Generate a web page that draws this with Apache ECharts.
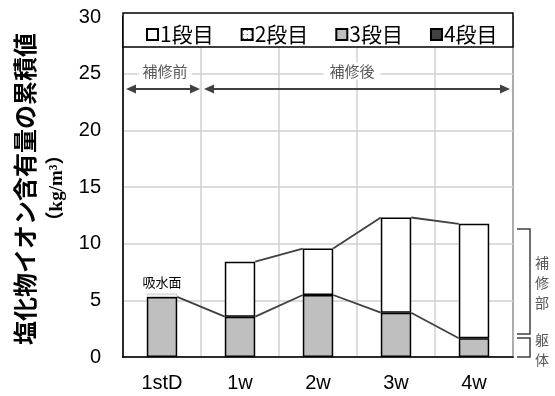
<!DOCTYPE html>
<html><head><meta charset="utf-8">
<script src="https://cdn.jsdelivr.net/npm/echarts@6/dist/echarts.min.js"></script>
<style>html,body{margin:0;padding:0;background:#fff}#c{width:555px;height:396px}</style>
</head><body><div id="c"></div>
<script>
var categories = ['1stD', '1w', '2w', '3w', '4w'];
var dan1 = [0.3, 4.85, 4.1, 8.4, 10.1];
var dan2 = [0, 0, 0, 0, 0];
var dan3 = [5.3, 3.56, 5.47, 3.91, 1.65];
var dan4 = [0, 0, 0, 0, 0];
var seriesNames = ['1段目', '2段目', '3段目', '4段目'];
var yTicks = [0, 5, 10, 15, 20, 25, 30];

var FONT = '"Liberation Sans", "Noto Sans CJK JP", sans-serif';
var BAR_FRAC = 0.39;

function nz(arr) { return arr.map(function (v) { return v === 0 ? '-' : v; }); }

// dotted pattern for 2段目
var pc = document.createElement('canvas');
pc.width = 4; pc.height = 4;
var pctx = pc.getContext('2d');
pctx.fillStyle = '#fff'; pctx.fillRect(0, 0, 4, 4);
pctx.fillStyle = '#404040'; pctx.fillRect(1, 1, 1, 1);
var dotted = { image: pc, repeat: 'repeat' };

// series-line data
var totals = categories.map(function (c, i) { return dan1[i] + dan2[i] + dan3[i] + dan4[i]; });
var lowerPairs = [], upperPairs = [];
for (var i = 0; i < categories.length - 1; i++) {
  lowerPairs.push([i, dan3[i], dan3[i + 1]]);
  if (i >= 1) upperPairs.push([i, totals[i], totals[i + 1]]);
}
function connector(params, api) {
  var i = api.value(0);
  var a = api.value(1), b = api.value(2);
  var half = api.size([1, 0])[0] * BAR_FRAC / 2;
  var p1 = api.coord([i, a]), p2 = api.coord([i + 1, b]);
  return {
    type: 'line',
    shape: { x1: p1[0] + half, y1: p1[1], x2: p2[0] - half, y2: p2[1] },
    style: { stroke: '#404040', lineWidth: 1.8 }
  };
}

var barBase = { type: 'bar', stack: 'total', barWidth: (BAR_FRAC * 100) + '%', z: 3 };
var chart = echarts.init(document.getElementById('c'), null, { renderer: 'canvas' });
chart.setOption({
  animation: false,
  textStyle: { fontFamily: FONT },
  grid: { left: 123, right: 42, top: 17, bottom: 39, show: true, borderColor: '#000', borderWidth: 1.5, backgroundColor: 'transparent' },
  legend: {
    data: seriesNames, left: 141, top: 19, itemWidth: 11, itemHeight: 11, itemGap: 27, icon: 'rect', z: 20,
    textStyle: { fontSize: 21, color: '#000', fontFamily: '"Noto Sans CJK JP", sans-serif', padding: [0, 0, 0, -3] }
  },
  xAxis: {
    type: 'category', data: categories,
    axisLine: { show: true, lineStyle: { color: '#000', width: 1.5 } },
    axisTick: { show: false },
    splitLine: { show: true, lineStyle: { color: '#d0d0d0', width: 1.5 } },
    axisLabel: { fontSize: 20, color: '#000', margin: 16, fontFamily: FONT }
  },
  yAxis: {
    type: 'value', min: yTicks[0], max: yTicks[yTicks.length - 1], interval: 5,
    axisLine: { show: true, lineStyle: { color: '#000', width: 1.5 } },
    axisTick: { show: false },
    splitLine: { show: true, lineStyle: { color: '#d0d0d0', width: 1.5 } },
    axisLabel: { fontSize: 20, color: '#000', margin: 22, fontFamily: FONT }
  },
  series: [
    Object.assign({}, barBase, { name: '3段目', data: nz(dan3), itemStyle: { color: '#bfbfbf', borderColor: '#000', borderWidth: 1.5 } }),
    Object.assign({}, barBase, { name: '4段目', data: nz(dan4), itemStyle: { color: '#404040', borderColor: '#000', borderWidth: 1.5 } }),
    Object.assign({}, barBase, { name: '2段目', data: nz(dan2), itemStyle: { color: dotted, borderColor: '#000', borderWidth: 1.5 } }),
    Object.assign({}, barBase, { name: '1段目',
      data: nz(dan1).map(function (v, i) { return i === 0 ? { value: v, itemStyle: { borderColor: '#d0d0d0', borderWidth: 1.2 } } : v; }),
      itemStyle: { color: '#fff', borderColor: '#000', borderWidth: 1.5 } }),
    { type: 'custom', name: 'lower', data: lowerPairs, renderItem: connector, z: 4, silent: true },
    { type: 'custom', name: 'upper', data: upperPairs, renderItem: connector, z: 4, silent: true }
  ],
  graphic: [
    { type: 'rect', shape: { x: 123, y: 13, width: 390, height: 34 }, style: { fill: '#fff', stroke: '#000', lineWidth: 1.5 }, z: 10 },
    { type: 'text', x: 25, y: 189, rotation: Math.PI / 2, z: 10,
      style: { text: '塩化物イオン含有量の累積値', fontSize: 24, fontWeight: 'bold', fill: '#000', align: 'center', verticalAlign: 'middle', fontFamily: '"Noto Sans CJK JP", sans-serif' } },
    { type: 'text', x: 57, y: 188, rotation: Math.PI / 2, z: 10,
      style: { text: '（kg/m³）', fontSize: 19, fontWeight: 'bold', fill: '#000', align: 'center', verticalAlign: 'middle', fontFamily: '"Liberation Serif", "Noto Sans CJK JP", serif' } },
    { type: 'text', x: 165, y: 71, z: 10,
      style: { text: '補修前', fontSize: 15, fill: '#595959', align: 'center', verticalAlign: 'middle', backgroundColor: '#fff', padding: [1, 4], fontFamily: '"Noto Sans CJK JP", sans-serif' } },
    { type: 'text', x: 352, y: 71, z: 10,
      style: { text: '補修後', fontSize: 15, fill: '#595959', align: 'center', verticalAlign: 'middle', backgroundColor: '#fff', padding: [1, 6], fontFamily: '"Noto Sans CJK JP", sans-serif' } },
    { type: 'line', shape: { x1: 131, y1: 89, x2: 196, y2: 89 }, style: { stroke: '#404040', lineWidth: 2 }, z: 10 },
    { type: 'polygon', shape: { points: [[126, 89], [136, 84.5], [136, 93.5]] }, style: { fill: '#404040' }, z: 10 },
    { type: 'polygon', shape: { points: [[200, 89], [190, 84.5], [190, 93.5]] }, style: { fill: '#404040' }, z: 10 },
    { type: 'line', shape: { x1: 208, y1: 89, x2: 506, y2: 89 }, style: { stroke: '#404040', lineWidth: 2 }, z: 10 },
    { type: 'polygon', shape: { points: [[204, 89], [214, 84.5], [214, 93.5]] }, style: { fill: '#404040' }, z: 10 },
    { type: 'polygon', shape: { points: [[510, 89], [500, 84.5], [500, 93.5]] }, style: { fill: '#404040' }, z: 10 },
    { type: 'text', x: 162, y: 282, z: 10,
      style: { text: '吸水面', fontSize: 13, fill: '#000', align: 'center', verticalAlign: 'middle', fontFamily: '"Noto Sans CJK JP", sans-serif' } },
    { type: 'polyline', shape: { points: [[517, 229], [530, 229], [530, 334], [517, 334]] }, style: { stroke: '#404040', lineWidth: 1.5, fill: null }, z: 10 },
    { type: 'polyline', shape: { points: [[517, 338], [530, 338], [530, 357], [517, 357]] }, style: { stroke: '#404040', lineWidth: 1.5, fill: null }, z: 10 },
    { type: 'text', x: 542, y: 283, z: 10,
      style: { text: '補\n修\n部', fontSize: 14, lineHeight: 20, fill: '#595959', align: 'center', verticalAlign: 'middle', fontFamily: '"Noto Sans CJK JP", sans-serif' } },
    { type: 'text', x: 542, y: 350, z: 10,
      style: { text: '躯\n体', fontSize: 14, lineHeight: 20, fill: '#595959', align: 'center', verticalAlign: 'middle', fontFamily: '"Noto Sans CJK JP", sans-serif' } }
  ]
});
</script></body></html>
